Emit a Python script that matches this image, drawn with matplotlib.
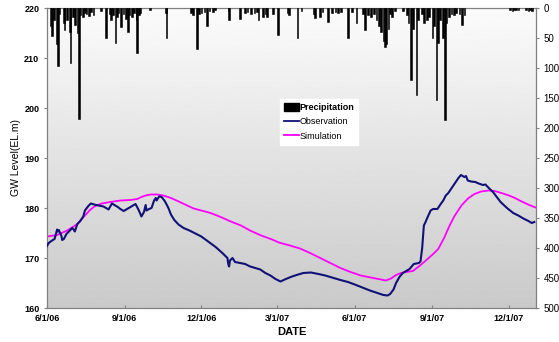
import numpy as np
import pandas as pd
import matplotlib
matplotlib.use("Agg")
import matplotlib.pyplot as plt
from matplotlib.patches import Patch
from matplotlib.lines import Line2D

# Daily precipitation (mm), days with rain only
precip_dates = [
    "2006-06-05", "2006-06-07", "2006-06-09", "2006-06-13", "2006-06-14", "2006-06-16",
    "2006-06-21", "2006-06-22", "2006-06-25", "2006-06-28", "2006-06-29", "2006-07-02",
    "2006-07-04", "2006-07-07", "2006-07-09", "2006-07-11", "2006-07-14", "2006-07-16",
    "2006-07-18", "2006-07-21", "2006-07-23", "2006-07-26", "2006-08-04", "2006-08-10",
    "2006-08-14", "2006-08-16", "2006-08-18", "2006-08-21", "2006-08-23", "2006-08-25",
    "2006-08-28", "2006-08-31", "2006-09-03", "2006-09-05", "2006-09-07", "2006-09-10",
    "2006-09-12", "2006-09-15", "2006-09-16", "2006-09-18", "2006-09-19", "2006-10-01",
    "2006-10-20", "2006-10-21", "2006-11-19", "2006-11-21", "2006-11-26", "2006-11-28",
    "2006-12-01", "2006-12-05", "2006-12-08", "2006-12-11", "2006-12-15", "2006-12-17",
    "2007-01-02", "2007-01-03", "2007-01-16", "2007-01-22", "2007-01-25", "2007-01-29",
    "2007-02-02", "2007-02-05", "2007-02-07", "2007-02-12", "2007-02-15", "2007-02-17",
    "2007-02-24", "2007-03-02", "2007-03-13", "2007-03-15", "2007-03-25", "2007-03-30",
    "2007-04-13", "2007-04-15", "2007-04-21", "2007-04-24", "2007-04-30", "2007-05-05",
    "2007-05-09", "2007-05-12", "2007-05-16", "2007-05-24", "2007-05-29", "2007-06-03",
    "2007-06-11", "2007-06-13", "2007-06-17", "2007-06-20", "2007-06-24", "2007-06-27",
    "2007-06-30", "2007-07-02", "2007-07-05", "2007-07-07", "2007-07-08", "2007-07-11",
    "2007-07-13", "2007-07-15", "2007-07-19", "2007-07-28", "2007-08-02", "2007-08-04",
    "2007-08-07", "2007-08-09", "2007-08-13", "2007-08-15", "2007-08-20", "2007-08-22",
    "2007-08-26", "2007-08-28", "2007-09-01", "2007-09-03", "2007-09-06", "2007-09-08",
    "2007-09-10", "2007-09-14", "2007-09-16", "2007-09-18", "2007-09-21", "2007-09-24",
    "2007-09-27", "2007-09-29", "2007-10-03", "2007-10-06", "2007-10-09", "2007-12-02",
    "2007-12-05", "2007-12-07", "2007-12-09", "2007-12-12", "2007-12-21", "2007-12-24",
    "2007-12-26", "2007-12-28",
]
precip_mm = [
    30, 47, 20, 60, 97, 10,
    25, 37, 20, 40, 92, 15,
    28, 42, 185, 12, 15, 8,
    10, 14, 6, 12, 5, 50,
    10, 20, 12, 58, 15, 8,
    32, 10, 18, 40, 12, 15,
    8, 20, 75, 12, 8, 4,
    8, 50, 8, 12, 68, 10,
    8, 6, 30, 5, 6, 4,
    5, 20, 18, 8, 6, 10,
    8, 6, 20, 15, 10, 15,
    10, 45, 8, 12, 50, 5,
    10, 17, 15, 6, 23, 8,
    6, 8, 6, 50, 6, 25,
    10, 37, 12, 15, 10, 20,
    30, 40, 55, 65, 60, 35,
    10, 15, 5, 5, 12, 25,
    120, 35, 145, 20, 10, 25,
    20, 15, 50, 30, 153, 58,
    20, 50, 187, 25, 15, 10,
    12, 8, 10, 28, 12, 4,
    5, 3, 4, 3, 4, 5,
    3, 5,
]

# Observed groundwater level (EL. m)
obs_dates = [
    "2006-06-01", "2006-06-03", "2006-06-07", "2006-06-10", "2006-06-13", "2006-06-14",
    "2006-06-15", "2006-06-18", "2006-06-19", "2006-06-21", "2006-06-24", "2006-06-27",
    "2006-07-01", "2006-07-03", "2006-07-04", "2006-07-07", "2006-07-10", "2006-07-14",
    "2006-07-16", "2006-07-20", "2006-07-23", "2006-07-27", "2006-08-01", "2006-08-07",
    "2006-08-13", "2006-08-17", "2006-08-20", "2006-08-24", "2006-08-27", "2006-08-31",
    "2006-09-03", "2006-09-08", "2006-09-12", "2006-09-14", "2006-09-18", "2006-09-21",
    "2006-09-24", "2006-09-26", "2006-09-27", "2006-09-30", "2006-10-03", "2006-10-06",
    "2006-10-08", "2006-10-09", "2006-10-12", "2006-10-15", "2006-10-19", "2006-10-23",
    "2006-10-26", "2006-10-30", "2006-11-04", "2006-11-10", "2006-11-17", "2006-11-25",
    "2006-12-01", "2006-12-09", "2006-12-18", "2006-12-26", "2007-01-01", "2007-01-02",
    "2007-01-03", "2007-01-04", "2007-01-07", "2007-01-10", "2007-01-16", "2007-01-22",
    "2007-01-28", "2007-02-03", "2007-02-09", "2007-02-15", "2007-02-21", "2007-02-27",
    "2007-03-05", "2007-03-10", "2007-03-17", "2007-03-24", "2007-04-01", "2007-04-10",
    "2007-04-19", "2007-04-27", "2007-05-07", "2007-05-15", "2007-05-24", "2007-06-01",
    "2007-06-10", "2007-06-19", "2007-06-28", "2007-07-05", "2007-07-10", "2007-07-13",
    "2007-07-17", "2007-07-20", "2007-07-24", "2007-07-28", "2007-08-02", "2007-08-05",
    "2007-08-10", "2007-08-16", "2007-08-18", "2007-08-20", "2007-08-22", "2007-08-24",
    "2007-08-26", "2007-08-30", "2007-09-02", "2007-09-07", "2007-09-11", "2007-09-14",
    "2007-09-17", "2007-09-20", "2007-09-24", "2007-09-28", "2007-10-02", "2007-10-05",
    "2007-10-09", "2007-10-11", "2007-10-13", "2007-10-17", "2007-10-22", "2007-10-26",
    "2007-10-31", "2007-11-03", "2007-11-07", "2007-11-12", "2007-11-16", "2007-11-21",
    "2007-11-26", "2007-11-30", "2007-12-06", "2007-12-12", "2007-12-18", "2007-12-24",
    "2007-12-28", "2007-12-31",
]
obs_level = [
    172.4, 173.0, 173.5, 173.8, 175.7, 175.3,
    175.6, 174.5, 173.6, 173.8, 174.8, 175.3,
    176.0, 175.6, 175.3, 176.8, 177.3, 178.3,
    179.5, 180.4, 180.9, 180.7, 180.5, 180.3,
    179.7, 180.9, 180.6, 180.2, 179.8, 179.4,
    179.7, 180.2, 180.6, 180.8, 179.5, 178.3,
    179.2, 180.6, 179.5, 179.8, 180.0, 181.5,
    182.0, 181.5, 182.3, 182.2, 181.3, 180.0,
    178.7, 177.6, 176.7, 176.0, 175.5, 174.8,
    174.3, 173.3, 172.2, 171.0, 170.0, 168.8,
    168.3, 169.5, 170.0, 169.2, 169.0, 168.8,
    168.3, 168.0, 167.7, 167.0, 166.5, 165.8,
    165.3, 165.7, 166.2, 166.6, 167.0, 167.1,
    166.8, 166.5, 166.0, 165.6, 165.2, 164.7,
    164.1, 163.5, 163.0, 162.6, 162.5, 162.8,
    163.7, 165.0, 166.2, 167.0, 167.5, 167.8,
    168.8, 169.0, 169.3, 172.0, 176.5, 177.2,
    178.0, 179.5, 179.8, 179.8, 180.8, 181.5,
    182.5, 183.0, 184.0, 185.0, 186.0, 186.6,
    186.2, 186.4, 185.5, 185.3, 185.2, 184.9,
    184.6, 184.7, 184.0, 183.2, 182.3, 181.2,
    180.4, 179.8, 179.0, 178.5, 177.9, 177.4,
    177.0, 177.2,
]

# Simulated groundwater level (EL. m)
sim_dates = [
    "2006-06-01", "2006-06-13", "2006-06-25", "2006-07-07", "2006-07-16", "2006-07-22",
    "2006-07-28", "2006-08-05", "2006-08-15", "2006-08-27", "2006-09-08", "2006-09-16",
    "2006-09-21", "2006-09-26", "2006-10-02", "2006-10-10", "2006-10-17", "2006-10-26",
    "2006-11-03", "2006-11-13", "2006-11-22", "2006-12-01", "2006-12-12", "2006-12-24",
    "2007-01-05", "2007-01-17", "2007-01-29", "2007-02-10", "2007-02-23", "2007-03-03",
    "2007-03-16", "2007-03-28", "2007-04-09", "2007-04-21", "2007-05-03", "2007-05-15",
    "2007-05-27", "2007-06-08", "2007-06-20", "2007-06-29", "2007-07-08", "2007-07-14",
    "2007-07-20", "2007-07-26", "2007-08-01", "2007-08-09", "2007-08-16", "2007-08-23",
    "2007-09-02", "2007-09-08", "2007-09-15", "2007-09-21", "2007-09-27", "2007-10-06",
    "2007-10-14", "2007-10-21", "2007-10-29", "2007-11-07", "2007-11-14", "2007-11-22",
    "2007-12-01", "2007-12-08", "2007-12-16", "2007-12-25", "2008-01-03",
]
sim_level = [
    174.3, 174.6, 175.5, 176.8, 178.5, 179.6,
    180.4, 180.9, 181.2, 181.5, 181.6, 181.8,
    182.2, 182.5, 182.7, 182.7, 182.5, 182.0,
    181.4, 180.6, 179.9, 179.5, 179.0, 178.2,
    177.3, 176.5, 175.4, 174.5, 173.7, 173.1,
    172.5, 171.9, 171.0, 170.0, 169.0, 168.0,
    167.2, 166.5, 166.1, 165.8, 165.5, 165.9,
    166.6, 167.0, 167.2, 167.4, 168.3, 169.3,
    170.8, 171.8, 174.0, 176.3, 178.3, 180.6,
    182.0, 182.8, 183.3, 183.5, 183.4, 183.0,
    182.5, 182.0, 181.3, 180.6, 180.0,
]

date_ticks = ["2006-06-01", "2006-09-01", "2006-12-01", "2007-03-01",
              "2007-06-01", "2007-09-01", "2007-12-01"]
date_tick_labels = ["6/1/06", "9/1/06", "12/1/06", "3/1/07", "6/1/07", "9/1/07", "12/1/07"]
level_ticks = [160, 170, 180, 190, 200, 210, 220]
rain_ticks = [0, 50, 100, 150, 200, 250, 300, 350, 400, 450, 500]

plt.rcParams["font.family"] = ["Liberation Sans", "DejaVu Sans"]

fig = plt.figure(figsize=(5.59, 3.42), dpi=100)
ax = fig.add_axes([47 / 559, 1 - 308 / 342, (536 - 47) / 559, (308 - 8) / 342])

# vertical grey gradient behind the plot area
grad = np.linspace(0.985, 0.79, 256).reshape(-1, 1)
ax.imshow(grad, cmap="gray", vmin=0, vmax=1, aspect="auto",
          extent=[0, 1, 0, 1], transform=ax.transAxes, zorder=0)

obs_t = pd.to_datetime(obs_dates)
sim_t = pd.to_datetime(sim_dates)
ax.plot(obs_t, obs_level, color="#111177", lw=1.5, zorder=3)
ax.plot(sim_t, sim_level, color="#ff00ff", lw=1.3, zorder=2)

x_start, x_end = pd.Timestamp("2006-06-01"), pd.Timestamp("2008-01-02")
ax.set_xlim(x_start, x_end)
ax.set_ylim(160, 220)
ax.set_yticks(level_ticks)
ax.set_xticks(pd.to_datetime(date_ticks))
ax.set_xticklabels(date_tick_labels)
ax.tick_params(axis="x", direction="in", length=2.5, labelsize=6.5, pad=4, color="#808080")
ax.tick_params(axis="y", direction="out", length=2.5, labelsize=6.5, pad=3, color="#808080")
for lab in ax.get_xticklabels() + ax.get_yticklabels():
    lab.set_fontweight("bold")
for sp in ax.spines.values():
    sp.set_color("#808080")
    sp.set_linewidth(0.9)
ax.set_ylabel("GW Level(EL.m)", fontsize=7.5, labelpad=2)
ax.set_xlabel("DATE", fontsize=8, fontweight="bold", labelpad=3)

# precipitation hanging from the top on an inverted secondary axis
ax2 = ax.twinx()
ax2.bar(pd.to_datetime(precip_dates), precip_mm, width=1.8, color="black",
        edgecolor="black", linewidth=0.4, align="center")
ax2.set_ylim(500, 0)
ax2.set_yticks(rain_ticks)
ax2.tick_params(axis="y", direction="out", length=2.5, labelsize=7, pad=3, color="#808080")
for sp in ax2.spines.values():
    sp.set_visible(False)
ax.set_xlim(x_start, x_end)

handles = [
    Patch(facecolor="black", edgecolor="black"),
    Line2D([], [], color="#111177", lw=1.3),
    Line2D([], [], color="#ff00ff", lw=1.3),
]
leg = ax2.legend(handles, ["Precipitation", "Observation", "Simulation"],
                 loc="upper left", bbox_to_anchor=((280 - 47) / 489, (308 - 99) / 300),
                 frameon=True, fancybox=False, framealpha=1.0, edgecolor="white",
                 facecolor="white", fontsize=6.5, handlelength=1.6, handleheight=0.9,
                 handletextpad=0.1, labelspacing=0.6, borderpad=0.45, borderaxespad=0)
leg.get_texts()[0].set_fontweight("bold")

fig.savefig("out.png", dpi=100, facecolor="white")
